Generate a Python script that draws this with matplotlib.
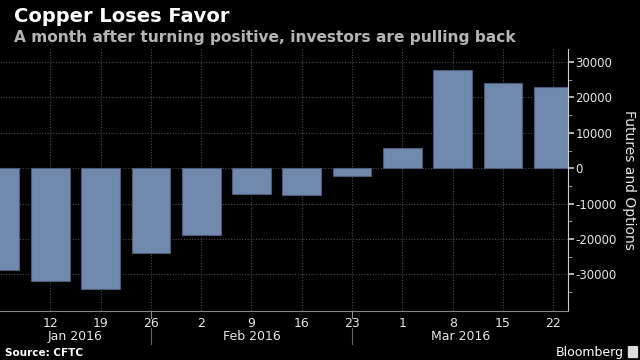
import matplotlib.pyplot as plt
import matplotlib.transforms as mtransforms
from matplotlib.patches import FancyBboxPatch

plt.rcParams["axes.unicode_minus"] = False

# weekly net positions (contracts), CFTC copper futures and options
weeks = ["5", "12", "19", "26", "2", "9", "16", "23", "1", "8", "15", "22"]
positions = [-28700, -31800, -34000, -24000, -19000, -7200, -7700, -2100,
             5800, 27800, 24000, 23000]
months = ["Jan 2016", "Feb 2016", "Mar 2016"]
month_breaks = [3, 7]          # week index where the month divider is drawn
yticks = [-30000, -20000, -10000, 0, 10000, 20000, 30000]

bg = "black"
bar_color = "#7189ad"
grid_color = "#4a4a4a"
text_color = "#e6e6e6"

fig = plt.figure(figsize=(6.4, 3.6), dpi=100, facecolor=bg)
ax = fig.add_axes([0.0, 0.1375, 0.888, 0.7265], facecolor=bg)

x = list(range(len(weeks)))
ax.bar(x, positions, width=0.77, color=bar_color, edgecolor="#4b5b78",
       linewidth=0.8, zorder=2)

ax.set_xlim(0, 11.3)
ax.set_ylim(-40200, 33700)

# grid
ax.set_xticks(x[1:])
ax.set_xticklabels(weeks[1:], color=text_color, fontsize=9)
ax.set_yticks(yticks)
ax.set_yticks(range(-35000, 33000, 5000), minor=True)
ax.grid(True, which="major", color=grid_color, linestyle=(0, (1, 1.5)),
        linewidth=0.8, zorder=0)

ax.yaxis.tick_right()
ax.yaxis.set_label_position("right")
ax.tick_params(axis="y", which="major", colors="#cccccc", length=4, width=1.2,
               labelsize=8.5, labelcolor=text_color, pad=1)
ax.tick_params(axis="y", which="minor", colors="#888888", length=3, width=0.8)
ax.tick_params(axis="x", length=0, pad=5)
ax.set_ylabel("Futures and Options", color=text_color, fontsize=10,
              rotation=-90, va="center", ha="center")
ax.yaxis.set_label_coords(1.107, 0.5)

for side in ["left", "top"]:
    ax.spines[side].set_visible(False)
ax.spines["right"].set_color("#cccccc")
ax.spines["bottom"].set_color("#888888")

# month dividers and labels
trans = mtransforms.blended_transform_factory(ax.transData, ax.transAxes)
for b in month_breaks:
    ax.plot([b, b], [0, -0.029], color="#888888", lw=0.8, transform=trans,
            clip_on=False)
    ax.plot([b, b], [-0.067, -0.128], color="#666666", lw=0.8,
            transform=trans, clip_on=False)
edges = [0] + month_breaks + [11.3]
for i, m in enumerate(months):
    ax.text((edges[i] + edges[i + 1]) / 2, -0.1, m, transform=trans,
            ha="center", va="center", color=text_color, fontsize=9)

fig.text(0.022, 0.955, "Copper Loses Favor", color="white", fontsize=14,
         fontweight="bold", va="center")
fig.text(0.022, 0.895, "A month after turning positive, investors are pulling back",
         color="#b4b4b4", fontsize=11.1, fontweight="bold", va="center")
fig.text(0.008, 0.02, "Source: CFTC", color="white", fontsize=7.5,
         fontweight="bold", va="center")
fig.text(0.975, 0.022, "Bloomberg", color="white", fontsize=9, ha="right",
         va="center")
fig.patches.append(FancyBboxPatch((0.983, 0.008), 0.012, 0.028,
                                  boxstyle="round,pad=0.001", color="#dddddd",
                                  transform=fig.transFigure, figure=fig))

fig.savefig("out.png", dpi=100, facecolor=bg)
